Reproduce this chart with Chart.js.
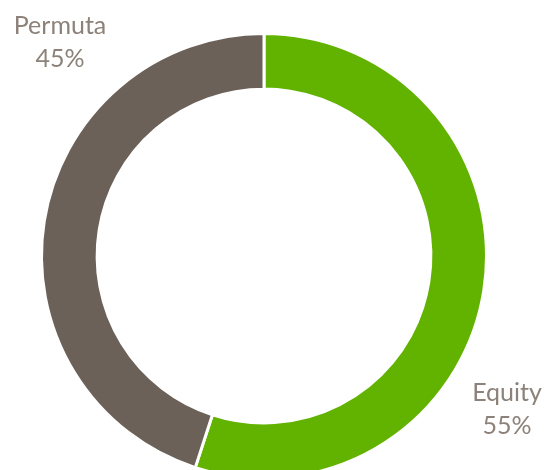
<!DOCTYPE html>
<html>
<head>
<meta charset="utf-8">
<script src="https://cdn.jsdelivr.net/npm/chart.js@4"></script>
<style>
  html, body { margin: 0; padding: 0; background: #fff; overflow: hidden; }
  #wrap { width: 545px; height: 500px; position: relative; }
</style>
</head>
<body>
<div id="wrap"><canvas id="donut"></canvas></div>
<script>
// data
var categories = ['Equity', 'Permuta'];
var shares = [55, 45];
var sliceColors = ['#62b300', '#6b6159'];

// text labels, placed next to the ring like the original
var labelSpots = { Equity: [507, 401], Permuta: [60, 34] };

var sliceLabels = {
  id: 'sliceLabels',
  afterDraw: function(chart) {
    var ctx = chart.ctx;
    ctx.save();
    ctx.fillStyle = '#8c8279';
    ctx.font = '25px Lato';
    ctx.textAlign = 'center';
    ctx.textBaseline = 'alphabetic';
    chart.data.labels.forEach(function(name, i) {
      var p = labelSpots[name];
      ctx.fillText(name, p[0], p[1]);
      ctx.fillText(chart.data.datasets[0].data[i] + '%', p[0], p[1] + 33);
    });
    ctx.restore();
  }
};

Chart.defaults.font.family = 'Lato';
var chart = new Chart('donut', {
  type: 'doughnut',
  data: {
    labels: categories,
    datasets: [{
      data: shares,
      backgroundColor: sliceColors,
      borderColor: '#ffffff',
      borderWidth: 3
    }]
  },
  options: {
    responsive: true,
    maintainAspectRatio: false,
    animation: false,
    cutout: '75%',
    layout: { padding: { left: 40, right: 57, top: 32, bottom: 20 } },
    plugins: {
      legend: { display: false },
      tooltip: { enabled: false }
    }
  },
  plugins: [sliceLabels]
});
</script>
</body>
</html>
